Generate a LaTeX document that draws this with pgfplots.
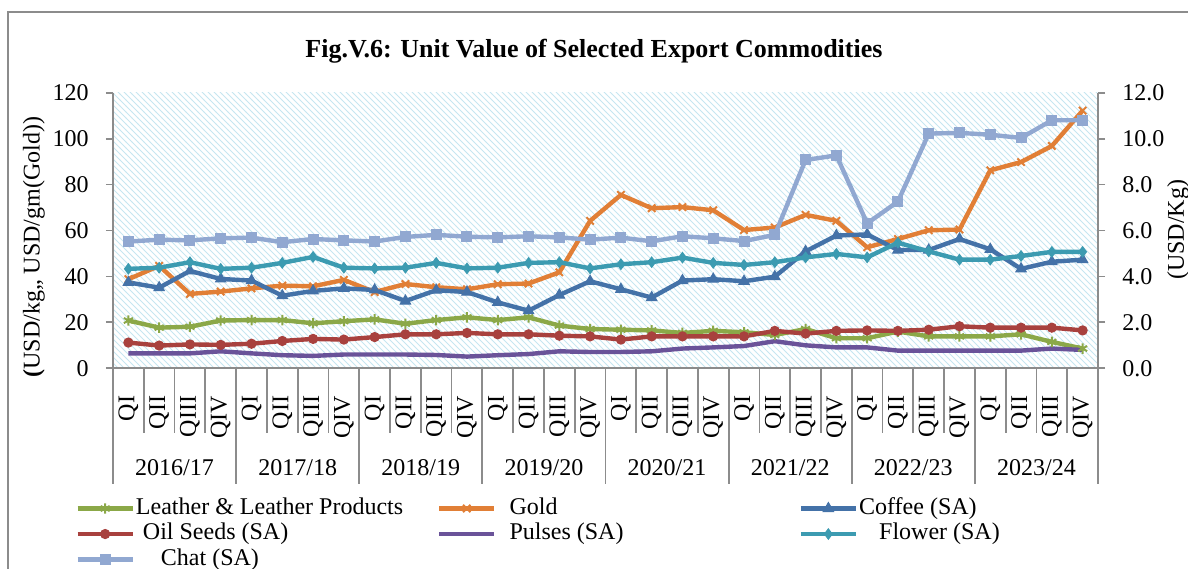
\documentclass[border=0pt]{standalone}
\usepackage{fontspec}
\setmainfont{Liberation Serif}
\usepackage{pgfplots}
\pgfplotsset{compat=1.18}
\usetikzlibrary{patterns}
\definecolor{cLeather}{HTML}{8BA848}
\definecolor{cGold}{HTML}{E17F36}
\definecolor{cCoffee}{HTML}{4472A8}
\definecolor{cOil}{HTML}{A8413E}
\definecolor{cPulses}{HTML}{6A5399}
\definecolor{cFlower}{HTML}{3C9BB1}
\definecolor{cChat}{HTML}{91A8D1}
\definecolor{cHatch}{HTML}{C6E6F0}
\definecolor{cAxis}{HTML}{8C8C8C}
\pgfplotsset{
  sLeather/.style={color=cLeather, line width=2.2pt, mark=asterisk, mark size=2.6pt, mark options={solid,line width=1pt}},
  sGold/.style={color=cGold, line width=2.2pt, mark=x, mark size=2.6pt, mark options={solid,line width=1pt}},
  sCoffee/.style={color=cCoffee, line width=2.2pt, mark=triangle*, mark size=3pt, mark options={solid,line width=0.5pt}},
  sOil/.style={color=cOil, line width=2.2pt, mark=*, mark size=2.3pt, mark options={solid,line width=0.5pt}},
  sPulses/.style={color=cPulses, line width=2.2pt, mark=none},
  sFlower/.style={color=cFlower, line width=2.2pt, mark=diamond*, mark size=2.6pt, mark options={solid,line width=0.5pt}},
  sChat/.style={color=cChat, line width=2.2pt, mark=square*, mark size=2.5pt, mark options={solid,line width=0.5pt}},
}
\begin{document}
\begin{tikzpicture}[font=\fontsize{12}{14}\selectfont]
\path[use as bounding box] (-56.5pt,-99.85pt) rectangle (537.5pt,184.15pt);
\draw[cAxis, line width=0.9pt] (-52.5pt,-110pt) -- (-52.5pt,178.2pt) -- (545pt,178.2pt);
\node[font=\fontsize{13}{15}\selectfont\bfseries] at (240.5pt,158.5pt) {Fig.V.6: Unit Value of Selected Export Commodities};
\node[rotate=90] at (-39.5pt,60.5pt) {\textbf{(}USD/kg,, USD/gm(Gold))};
\node[rotate=90] at (532.5pt,69.2pt) {(USD/Kg)};
\begin{axis}[
  scale only axis, width=492.5pt, height=137.8pt,
  at={(0pt,0pt)}, anchor=south west,
  xmin=-0.5, xmax=31.5, ymin=0, ymax=120,
  axis y line*=left, axis x line*=bottom,
  axis line style={cAxis, line width=0.9pt, -},
  axis background/.style={pattern=north west lines, pattern color=cHatch},
  ytick={0,20,...,120},
  tick align=outside,
  major tick length=3.5pt,
  tick style={cAxis, line width=0.9pt},
  xtick={0,...,31},
  xticklabels={QI,QII,QIII,QIV,QI,QII,QIII,QIV,QI,QII,QIII,QIV,QI,QII,QIII,QIV,QI,QII,QIII,QIV,QI,QII,QIII,QIV,QI,QII,QIII,QIV,QI,QII,QIII,QIV},
  x tick style={draw=none},
  xticklabel style={rotate=90, anchor=east, inner sep=0pt},
  xticklabel shift=10pt,
  yticklabel style={inner sep=0pt},
  yticklabel shift=8.5pt,
  /pgf/number format/assume math mode=true,
  clip=false,
]
\addplot[sLeather] coordinates {(0,20.8)(1,17.7)(2,18.1)(3,20.8)(4,21.0)(5,21.0)(6,19.6)(7,20.5)(8,21.3)(9,19.4)(10,21.0)(11,22.2)(12,21.0)(13,22.2)(14,18.6)(15,17.1)(16,16.8)(17,16.5)(18,15.4)(19,16.3)(20,15.7)(21,14.5)(22,17.1)(23,13.1)(24,13.1)(25,16.0)(26,13.9)(27,13.9)(28,13.9)(29,14.8)(30,11.5)(31,8.6)};
\addplot[sGold] coordinates {(0,38.8)(1,44.6)(2,32.4)(3,33.4)(4,34.8)(5,36.0)(6,35.7)(7,38.5)(8,33.2)(9,36.7)(10,35.3)(11,34.4)(12,36.6)(13,36.9)(14,41.8)(15,64.2)(16,75.5)(17,69.7)(18,70.2)(19,68.8)(20,60.2)(21,61.3)(22,66.8)(23,64.2)(24,52.7)(25,56.3)(26,60.1)(27,60.4)(28,86.2)(29,89.8)(30,96.8)(31,112.2)};
\addplot[sCoffee] coordinates {(0,37.4)(1,35.1)(2,42.4)(3,38.9)(4,38.2)(5,31.6)(6,33.7)(7,34.8)(8,34.1)(9,29.3)(10,34.0)(11,33.2)(12,28.7)(13,25.1)(14,31.9)(15,37.9)(16,34.4)(17,30.8)(18,38.2)(19,38.8)(20,37.9)(21,39.9)(22,50.9)(23,57.8)(24,58.3)(25,51.5)(26,51.5)(27,56.3)(28,51.8)(29,43.3)(30,46.4)(31,47.3)};
\addplot[sOil] coordinates {(0,11.2)(1,9.9)(2,10.4)(3,10.2)(4,10.7)(5,11.9)(6,12.8)(7,12.5)(8,13.6)(9,14.8)(10,14.8)(11,15.4)(12,14.8)(13,14.8)(14,14.2)(15,13.9)(16,12.5)(17,13.9)(18,13.9)(19,13.9)(20,13.9)(21,16.3)(22,15.1)(23,16.3)(24,16.5)(25,16.3)(26,16.8)(27,18.3)(28,17.7)(29,17.7)(30,17.7)(31,16.5)};
\addplot[sPulses] coordinates {(0,6.5)(1,6.5)(2,6.5)(3,7.4)(4,6.5)(5,5.7)(6,5.4)(7,6.0)(8,6.0)(9,6.0)(10,5.8)(11,5.1)(12,5.7)(13,6.2)(14,7.4)(15,7.1)(16,7.1)(17,7.4)(18,8.6)(19,9.1)(20,9.7)(21,11.8)(22,10.0)(23,9.1)(24,9.1)(25,7.7)(26,7.7)(27,7.7)(28,7.7)(29,7.7)(30,8.6)(31,8.0)};
\pgfplotsinvokeforeach{0,...,31}{
  \draw[cAxis, line width=0.9pt] (axis cs:#1+0.5,0) -- ++(0pt,-32.3pt);
}
\pgfplotsinvokeforeach{0,4,8,12,16,20,24,28,32}{
  \draw[cAxis, line width=0.9pt] (axis cs:#1-0.5,0) -- ++(0pt,-58pt);
}
\node at (axis cs:1.5,0) [yshift=-49.9pt] {2016/17};
\node at (axis cs:5.5,0) [yshift=-49.9pt] {2017/18};
\node at (axis cs:9.5,0) [yshift=-49.9pt] {2018/19};
\node at (axis cs:13.5,0) [yshift=-49.9pt] {2019/20};
\node at (axis cs:17.5,0) [yshift=-49.9pt] {2020/21};
\node at (axis cs:21.5,0) [yshift=-49.9pt] {2021/22};
\node at (axis cs:25.5,0) [yshift=-49.9pt] {2022/23};
\node at (axis cs:29.5,0) [yshift=-49.9pt] {2023/24};
\end{axis}
\begin{axis}[
  scale only axis, width=492.5pt, height=137.8pt,
  at={(0pt,0pt)}, anchor=south west,
  xmin=-0.5, xmax=31.5, ymin=0, ymax=12,
  axis y line*=right, axis x line=none,
  axis line style={cAxis, line width=0.9pt, -},
  ytick={0,2,...,12},
  tick align=outside,
  major tick length=3.5pt,
  tick style={cAxis, line width=0.9pt},
  yticklabel style={inner sep=0pt, /pgf/number format/.cd, fixed, fixed zerofill, precision=1},
  yticklabel shift=8.5pt,
  /pgf/number format/assume math mode=true,
  clip=false,
  legend columns=3,
  legend cell align=left,
  legend style={at={(axis description cs:-0.0386,-0.462)}, anchor=north west, draw=none, fill=none, inner sep=0pt, row sep=0.25pt,
    nodes={inner sep=0.5pt, text height=8.5pt, text depth=3pt}},
  legend image code/.code={\draw[mark repeat=2,mark phase=2] plot coordinates {(0cm,0cm)(0.485cm,0cm)(0.97cm,0cm)};},
]
\addlegendimage{sLeather}
\addlegendentry{\makebox[150pt][l]{Leather \& Leather Products}}
\addlegendimage{sGold}
\addlegendentry{\makebox[150pt][l]{\hspace{6pt}Gold}}
\addlegendimage{sCoffee}
\addlegendentry{Coffee (SA)}
\addlegendimage{sOil}
\addlegendentry{\makebox[150pt][l]{\hspace{3.5pt}Oil Seeds (SA)}}
\addlegendimage{sPulses}
\addlegendentry{\makebox[150pt][l]{\hspace{6pt}Pulses (SA)}}
\addplot[sFlower] coordinates {(0,4.33)(1,4.38)(2,4.62)(3,4.33)(4,4.38)(5,4.59)(6,4.85)(7,4.38)(8,4.35)(9,4.38)(10,4.59)(11,4.35)(12,4.38)(13,4.59)(14,4.62)(15,4.35)(16,4.53)(17,4.62)(18,4.82)(19,4.59)(20,4.50)(21,4.62)(22,4.83)(23,4.98)(24,4.83)(25,5.47)(26,5.09)(27,4.73)(28,4.73)(29,4.89)(30,5.07)(31,5.07)};
\addlegendentry{\hspace{10pt}Flower (SA)}
\addplot[sChat] coordinates {(0,5.52)(1,5.60)(2,5.57)(3,5.66)(4,5.69)(5,5.49)(6,5.63)(7,5.57)(8,5.52)(9,5.72)(10,5.81)(11,5.73)(12,5.70)(13,5.75)(14,5.70)(15,5.60)(16,5.69)(17,5.53)(18,5.75)(19,5.66)(20,5.54)(21,5.81)(22,9.07)(23,9.27)(24,6.31)(25,7.26)(26,10.22)(27,10.25)(28,10.17)(29,10.03)(30,10.80)(31,10.80)};
\addlegendentry{\hspace{12.5pt}Chat (SA)}
\end{axis}
\end{tikzpicture}
\end{document}
